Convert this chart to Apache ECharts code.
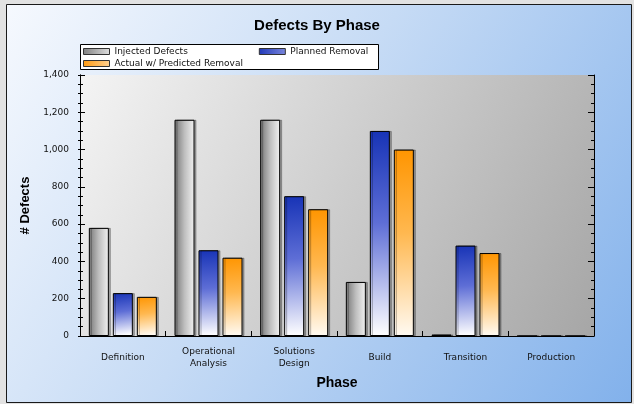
<!DOCTYPE html>
<html>
<head>
<meta charset="utf-8">
<script src="https://cdn.jsdelivr.net/npm/echarts@6/dist/echarts.min.js"></script>
<style>html,body{margin:0;padding:0;background:#e2e2e2}#c{width:634px;height:404px}</style>
</head>
<body>
<div id="c"></div>
<script>
var categories = ['Definition', 'Operational\nAnalysis', 'Solutions\nDesign', 'Build', 'Transition', 'Production'];
var injected = [580, 1160, 1160, 290, 8, 0];
var planned = [230, 460, 750, 1100, 485, 0];
var actual = [210, 420, 680, 1000, 445, 0];
var seriesNames = ['Injected Defects', 'Planned Removal', 'Actual w/ Predicted Removal'];

var G = echarts.graphic.LinearGradient;
function grayFill() { return new G(0, 0, 1, 0, [{offset: 0, color: '#767676'}, {offset: 0.5, color: '#bebebe'}, {offset: 1, color: '#f2f2f2'}]); }
function blueFill() { return new G(0, 0, 0.3, 1, [{offset: 0, color: '#1733b6'}, {offset: 0.45, color: '#5e6ed6'}, {offset: 1, color: '#ffffff'}]); }
function orangeFill() { return new G(0, 0, 0.3, 1, [{offset: 0, color: '#ff9500'}, {offset: 0.45, color: '#ffb850'}, {offset: 1, color: '#fffaf2'}]); }
function grayIcon() { return new G(0, 0, 1, 0, [{offset: 0, color: '#808080'}, {offset: 1, color: '#e0e0e0'}]); }
function blueIcon() { return new G(0, 0, 1, 0, [{offset: 0, color: '#2038b8'}, {offset: 1, color: '#7a86dc'}]); }
function orangeIcon() { return new G(0, 0, 1, 0, [{offset: 0, color: '#ff9a10'}, {offset: 1, color: '#ffd090'}]); }

var smallFont = {fontFamily: 'DejaVu Sans', fontSize: 9, color: '#111'};

function barSeries(name, data, fill) {
  return {
    name: name, type: 'bar', data: data, barWidth: 20, barGap: '20%',
    xAxisIndex: 0, yAxisIndex: 0,
    itemStyle: {color: fill, borderColor: '#000', borderWidth: 1,
      shadowColor: 'rgba(0,0,0,0.28)', shadowOffsetX: 2, shadowOffsetY: 0, shadowBlur: 0},
    emphasis: {disabled: true}
  };
}

var yBase = {type: 'value', min: 0, max: 1400, interval: 200, splitLine: {show: false}};
var legendCommon = {padding: [2, 3], itemWidth: 26, itemHeight: 6, icon: 'rect', textStyle: smallFont, selectedMode: false};

var chart = echarts.init(document.getElementById('c'), null, {renderer: 'canvas'});
chart.setOption({
  animation: false,
  backgroundColor: '#e2e2e2',
  graphic: [
    {type: 'rect', z: -100, shape: {x: 6.5, y: 4.5, width: 625, height: 398},
      style: {fill: new G(0, 0, 1, 1, [{offset: 0, color: '#f6f9fe'}, {offset: 0.45, color: '#c6dbf5'}, {offset: 1, color: '#82b1eb'}]), stroke: '#1a1a1a', lineWidth: 1}},
    {type: 'rect', z: 1, shape: {x: 80.5, y: 44.5, width: 298, height: 25},
      style: {fill: '#ffffff', stroke: '#000', lineWidth: 1}}
  ],
  title: {
    text: 'Defects By Phase', left: 'center', top: 13,
    textStyle: {fontFamily: 'Liberation Sans', fontWeight: 'bold', fontSize: 15, color: '#000'}
  },
  legend: [
    Object.assign({}, legendCommon, {left: 80, top: 45, itemGap: 71,
      data: [
        {name: seriesNames[0], itemStyle: {color: grayIcon(), borderColor: '#333', borderWidth: 1, shadowColor: 'transparent'}},
        {name: seriesNames[1], itemStyle: {color: blueIcon(), borderColor: '#333', borderWidth: 1, shadowColor: 'transparent'}}
      ]}),
    Object.assign({}, legendCommon, {left: 80, top: 57,
      data: [
        {name: seriesNames[2], itemStyle: {color: orangeIcon(), borderColor: '#333', borderWidth: 1, shadowColor: 'transparent'}}
      ]})
  ],
  grid: {left: 80, right: 40, top: 75, bottom: 68, show: true, borderWidth: 0,
    backgroundColor: new G(0, 0, 1, 1, [{offset: 0, color: '#f4f4f4'}, {offset: 1, color: '#a6a6a6'}])},
  xAxis: {
    type: 'category', data: categories,
    name: 'Phase', nameLocation: 'middle', nameGap: 40,
    nameTextStyle: {fontFamily: 'Liberation Sans', fontWeight: 'bold', fontSize: 14, color: '#000'},
    axisLine: {lineStyle: {color: '#000', width: 1}},
    axisTick: {show: true, inside: true, length: 5, interval: 0, lineStyle: {color: '#000'}},
    axisLabel: Object.assign({interval: 0, margin: 22, verticalAlign: 'middle', lineHeight: 12, align: 'center'}, smallFont),
    splitLine: {show: false}
  },
  yAxis: [
    Object.assign({}, yBase, {
      position: 'left',
      name: '# Defects', nameLocation: 'middle', nameGap: 42, nameRotate: 90,
      nameTextStyle: {fontFamily: 'Liberation Sans', fontWeight: 'bold', fontSize: 13, color: '#000'},
      axisLine: {show: true, lineStyle: {color: '#000'}},
      axisTick: {show: true, inside: false, length: 2, lineStyle: {color: '#000'}},
      minorTick: {show: true, splitNumber: 4, length: 2, lineStyle: {color: '#000'}},
      axisLabel: Object.assign({margin: 11, formatter: function (v) { return v.toLocaleString('en-US'); }}, smallFont)
    }),
    Object.assign({}, yBase, {
      position: 'left',
      axisLine: {show: true, lineStyle: {color: '#000'}},
      axisTick: {show: true, inside: true, length: 5, lineStyle: {color: '#000'}},
      minorTick: {show: true, splitNumber: 4, length: 3, lineStyle: {color: '#000'}},
      axisLabel: {show: false}
    }),
    Object.assign({}, yBase, {
      position: 'right',
      axisLine: {show: true, lineStyle: {color: '#000'}},
      axisTick: {show: true, inside: true, length: 6, lineStyle: {color: '#000'}},
      minorTick: {show: true, splitNumber: 4, length: 3, lineStyle: {color: '#000'}},
      axisLabel: {show: false}
    })
  ],
  series: [
    barSeries(seriesNames[0], injected, grayFill()),
    barSeries(seriesNames[1], planned, blueFill()),
    barSeries(seriesNames[2], actual, orangeFill())
  ]
});
</script>
</body>
</html>
